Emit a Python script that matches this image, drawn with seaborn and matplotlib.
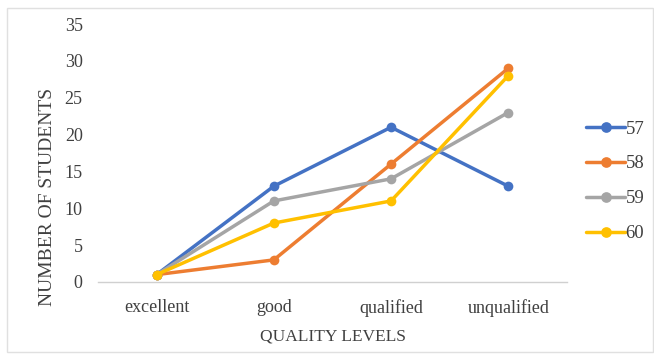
import matplotlib
matplotlib.use("Agg")
import matplotlib.pyplot as plt
from matplotlib.patches import Rectangle
import seaborn as sns
import pandas as pd

levels = ["excellent", "good", "qualified", "unqualified"]
series_names = ["57", "58", "59", "60"]
s57 = [1, 13, 21, 13]
s58 = [1, 3, 16, 29]
s59 = [1, 11, 14, 23]
s60 = [1, 8, 11, 28]
y_ticks = [0, 5, 10, 15, 20, 25, 30, 35]

colors = ["#4472C4", "#ED7D31", "#A5A5A5", "#FFC000"]

rows = []
for name, vals in zip(series_names, [s57, s58, s59, s60]):
    for lvl, v in zip(levels, vals):
        rows.append({"level": lvl, "count": v, "series": name})
df = pd.DataFrame(rows)

sns.set_theme(style="white")
plt.rcParams["font.family"] = ["Liberation Serif", "DejaVu Serif"]

fig = plt.figure(figsize=(6.54, 3.54), dpi=100)
ax = fig.add_axes([0.1498, 0.2034, 0.717, 0.7286])

sns.lineplot(data=df, x="level", y="count", hue="series", hue_order=series_names,
             palette=colors, marker="o", markersize=7, markeredgewidth=0,
             linewidth=2.5, sort=False, ax=ax)

ax.set_xlim(-0.5, 3.5)
ax.set_ylim(0, 35)
ax.set_yticks(y_ticks)
ax.set_yticklabels([str(t) for t in y_ticks], fontsize=13, color="#404040")
ax.set_xticks(range(len(levels)))
ax.set_xticklabels(levels, fontsize=13, color="#404040")
ax.tick_params(axis="y", length=0, pad=11)
ax.tick_params(axis="x", length=0, pad=12)

for side in ["top", "right", "left"]:
    ax.spines[side].set_visible(False)
ax.spines["bottom"].set_color("#D0D0D0")
ax.spines["bottom"].set_linewidth(1.0)

ax.set_xlabel("QUALITY LEVELS", fontsize=12.5, color="#404040")
ax.xaxis.set_label_coords(0.502, -0.18)
ax.set_ylabel("NUMBER OF STUDENTS", fontsize=14, color="#404040")
ax.yaxis.set_label_coords(-0.09, 0.33)

leg = ax.legend(loc="center left", bbox_to_anchor=(1.005, 0.39), frameon=False,
                fontsize=13.5, handlelength=2.1, handletextpad=0.0, labelspacing=0.95,
                markerscale=1.1)
for t in leg.get_texts():
    t.set_color("#404040")

fig.patches.append(Rectangle((7 / 654, 2 / 354), 646 / 654, 344 / 354,
                             transform=fig.transFigure, fill=False,
                             edgecolor="#E0E0E0", linewidth=1.0))

fig.savefig("out.png", dpi=100)
